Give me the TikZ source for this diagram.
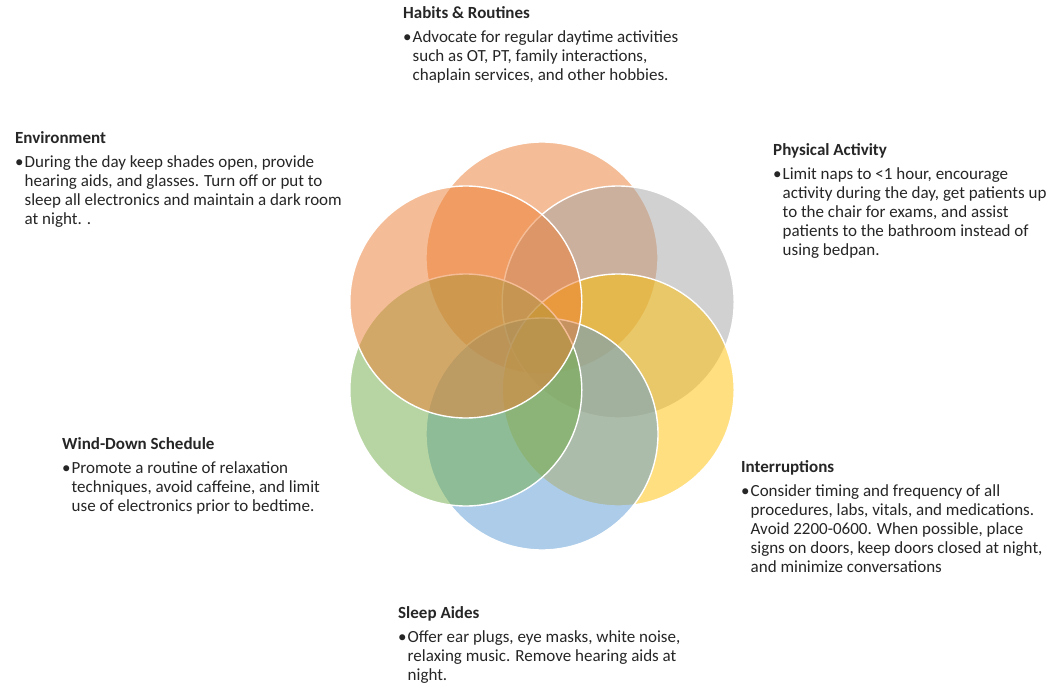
\documentclass[tikz,border=0pt]{standalone}
\usepackage{fontspec}
\setmainfont{Carlito}
\newcommand{\blt}{\makebox[9.5pt][l]{•}}
\newcommand{\infoblock}[2]{{\fontsize{17}{19}\selectfont\begin{tabular}[t]{@{}l@{}l@{}}\multicolumn{2}{@{}l@{}}{\textbf{#1}}\\[5pt]#2\end{tabular}}}
\begin{document}
\begin{tikzpicture}[x=1pt,y=-1pt,
  petal/.style={draw=white,line width=1.4pt,fill opacity=0.5,draw opacity=1},
  info/.style={inner sep=0pt,anchor=base west,text=black!85}]
\useasboundingbox (0,0) rectangle (1057,685);
\fill[white] (0,0) rectangle (1057,685);
\definecolor{cOrange}{HTML}{ED7D31}
\definecolor{cGray}{HTML}{A5A5A5}
\definecolor{cYellow}{HTML}{FFC000}
\definecolor{cBlue}{HTML}{5B9BD5}
\definecolor{cGreen}{HTML}{70AD47}
\coordinate (pHab) at (542,258);
\coordinate (pPhy) at (618.2,302);
\coordinate (pInt) at (618.2,390);
\coordinate (pSlp) at (542,434);
\coordinate (pWnd) at (465.8,390);
\coordinate (pEnv) at (465.8,302);
\filldraw[petal,fill=cOrange] (pHab) circle (116);
\filldraw[petal,fill=cGray] (pPhy) circle (116);
\filldraw[petal,fill=cYellow] (pInt) circle (116);
\filldraw[petal,fill=cBlue] (pSlp) circle (116);
\filldraw[petal,fill=cGreen] (pWnd) circle (116);
\filldraw[petal,fill=cOrange] (pEnv) circle (116);
\node[info] (hab) at (403,19) {\infoblock{Habits \& Routines}{\blt & Advocate for regular daytime activities\\ & such as OT, PT, family interactions,\\ & chaplain services, and other hobbies.}};
\node[info] (env) at (15,143) {\infoblock{Environment}{\blt & During the day keep shades open, provide\\ & hearing aids, and glasses. Turn off or put to\\ & sleep all electronics and maintain a dark room\\ & at night. .}};
\node[info] (phy) at (773,155) {\infoblock{Physical Activity}{\blt & Limit naps to <1 hour, encourage\\ & activity during the day, get patients up\\ & to the chair for exams, and assist\\ & patients to the bathroom instead of\\ & using bedpan.}};
\node[info] (wnd) at (62,449) {\infoblock{Wind-Down Schedule}{\blt & Promote a routine of relaxation\\ & techniques, avoid caffeine, and limit\\ & use of electronics prior to bedtime.}};
\node[info] (int) at (741,472) {\infoblock{Interruptions}{\blt & Consider timing and frequency of all\\ & procedures, labs, vitals, and medications.\\ & Avoid 2200-0600. When possible, place\\ & signs on doors, keep doors closed at night,\\ & and minimize conversations}};
\node[info] (slp) at (398,618) {\infoblock{Sleep Aides}{\blt & Offer ear plugs, eye masks, white noise,\\ & relaxing music. Remove hearing aids at\\ & night.}};
\end{tikzpicture}
\end{document}
